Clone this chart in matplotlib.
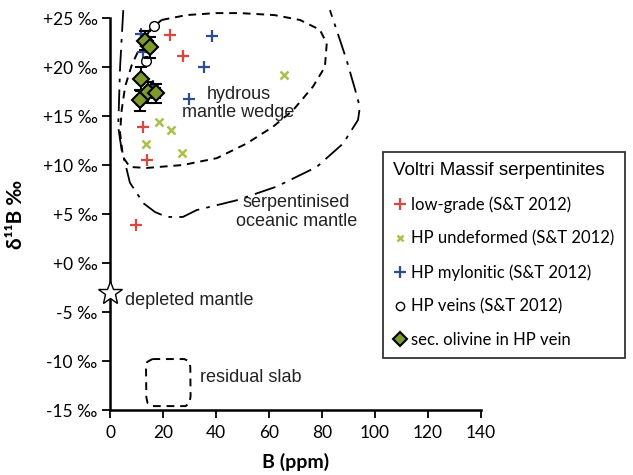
import matplotlib
matplotlib.use("Agg")
import matplotlib.pyplot as plt
from matplotlib.lines import Line2D

# data: B (ppm), d11B (permil)
low_grade_B = [22.6, 27.5, 12.5, 14.0, 9.8]
low_grade_d = [23.3, 21.1, 13.9, 10.5, 3.9]

hp_undef_B = [65.7, 18.5, 23.0, 13.6, 27.2]
hp_undef_d = [19.2, 14.4, 13.6, 12.1, 11.2]

hp_mylo_B = [38.5, 35.5, 29.8, 11.7, 12.5, 16.2]
hp_mylo_d = [23.2, 20.0, 16.7, 23.4, 21.5, 18.1]

hp_veins_B = [16.7, 13.6, 13.4]
hp_veins_d = [24.2, 20.6, 22.8]

olivine_B = [13.2, 15.1, 11.8, 11.3, 14.2, 17.2]
olivine_d = [22.7, 22.0, 18.8, 16.6, 17.4, 17.3]
olivine_Berr = [1.0, 1.0, 1.0, 1.0, 1.0, 1.5]
olivine_derr = [1.0, 1.1, 1.2, 1.1, 1.1, 1.0]

depleted_B = [0.0]
depleted_d = [-3.1]

# field outlines (B, d11B)
wedge_B = [19.5, 28.9, 40.0, 49.1, 62.0, 71.7, 79.2, 81.8, 81.1, 76.6, 69.1, 61.5, 51.6, 40.3,
           27.5, 13.8, 7.5, 4.9, 3.8, 4.4, 5.7, 8.2, 11.3, 15.1, 19.5]
wedge_d = [24.8, 25.3, 25.5, 25.5, 25.3, 24.8, 23.8, 22.4, 20.0, 18.0, 15.6, 13.9, 12.2, 10.7,
           10.0, 9.7, 9.8, 10.8, 13.3, 15.6, 18.0, 20.2, 22.0, 23.8, 24.8]

serp_B = [5.0, 3.8, 3.1, 4.4, 5.7, 7.5, 12.6, 17.0, 21.4, 27.5, 32.7, 47.8, 62.9, 78.0,
          88.0, 93.6, 94.3, 92.5, 89.3, 85.5, 83.0]
serp_d = [25.8, 20.0, 13.9, 11.5, 10.2, 8.2, 6.1, 5.2, 4.7, 4.7, 5.4, 6.4, 7.8, 9.8,
          12.2, 14.6, 15.9, 17.7, 20.7, 23.8, 25.8]

slab_B = [16.0, 28.0, 29.7, 30.3, 30.4, 30.0, 28.5, 16.0, 14.2, 13.7, 13.6, 14.0, 16.0]
slab_d = [-9.8, -9.8, -10.0, -10.6, -13.6, -14.3, -14.6, -14.6, -14.3, -13.7, -10.8, -10.1, -9.8]

y_ticks = [25, 20, 15, 10, 5, 0, -5, -10, -15]
y_labels = ['+25 ‰', '+20 ‰', '+15 ‰', '+10 ‰', '+5 ‰', '+0 ‰', '-5 ‰', '-10 ‰', '-15 ‰']
x_ticks = [0, 20, 40, 60, 80, 100, 120, 140]

plt.rcParams['font.family'] = ['Lato', 'DejaVu Sans']

fig = plt.figure(figsize=(6.33, 4.75), dpi=100)
ax = fig.add_axes([0.1738, 0.1368, 0.586, 0.8253])

red = '#d9483f'
lime = '#a9c14a'
blue = '#2d4d96'
olive = '#7d9b2a'

ax.plot(wedge_B, wedge_d, color='black', lw=1.4, ls=(0, (4, 3)), clip_on=False)
ax.plot(serp_B, serp_d, color='black', lw=1.3, ls=(0, (12, 4, 2, 4)), clip_on=False)
ax.plot(slab_B, slab_d, color='black', lw=1.4, ls=(0, (4, 3)), clip_on=False)

ax.plot(low_grade_B, low_grade_d, '+', color=red, ms=8, mew=1.6, ls='none', clip_on=False)
ax.plot(hp_undef_B, hp_undef_d, 'x', color=lime, ms=6, mew=1.8, ls='none', clip_on=False)
ax.plot(hp_mylo_B, hp_mylo_d, '+', color=blue, ms=8, mew=1.6, ls='none', clip_on=False)
ax.plot(hp_veins_B, hp_veins_d, 'o', mfc='white', mec='black', ms=7, mew=1.0, ls='none', clip_on=False)
ax.errorbar(olivine_B, olivine_d, xerr=olivine_Berr, yerr=olivine_derr, fmt='D', mfc=olive, mec='black',
            ms=8, mew=1.5, ecolor='black', elinewidth=1.4, capsize=4, capthick=1.4, clip_on=False)
ax.plot(depleted_B, depleted_d, '*', mfc='white', mec='black', ms=18, mew=1.0, clip_on=False, zorder=5)

ax.text(48.5, 16.3, 'hydrous\nmantle wedge', family='Liberation Sans', fontsize=13,
        ha='center', va='center', linespacing=1.05, color='#222222')
ax.text(70.3, 5.2, 'serpentinised\noceanic mantle', family='Liberation Sans', fontsize=13,
        ha='center', va='center', linespacing=1.15, color='#222222')
ax.text(5.5, -3.8, 'depleted mantle', family='Liberation Sans', fontsize=13,
        ha='left', va='center', color='#222222')
ax.text(34.0, -11.7, 'residual slab', family='Liberation Sans', fontsize=13,
        ha='left', va='center', color='#222222')

ax.set_xlim(0, 140)
ax.set_ylim(-15, 25)
ax.set_xticks(x_ticks)
ax.set_yticks(y_ticks)
ax.set_yticklabels(y_labels)
ax.tick_params(axis='both', direction='out', length=6, width=1.3, labelsize=12.5, colors='black')
ax.tick_params(axis='y', pad=3)
ax.tick_params(axis='x', pad=5)
for s in ['top', 'right']:
    ax.spines[s].set_visible(False)
for s in ['left', 'bottom']:
    ax.spines[s].set_linewidth(1.8)

ax.set_xlabel('B (ppm)', fontsize=14, fontweight='bold', labelpad=8)
ax.set_ylabel('δ¹¹B ‰', fontsize=15, fontweight='bold', labelpad=12)

handles = [
    Line2D([], [], marker='+', color=red, ls='none', ms=8, mew=1.6),
    Line2D([], [], marker='x', color=lime, ls='none', ms=5, mew=1.8),
    Line2D([], [], marker='+', color=blue, ls='none', ms=8, mew=1.6),
    Line2D([], [], marker='o', mfc='white', mec='black', ls='none', ms=6, mew=1.0),
    Line2D([], [], marker='D', mfc=olive, mec='black', ls='none', ms=7, mew=1.5),
]
labels = ['low-grade (S&T 2012)', 'HP undeformed (S&T 2012)', 'HP mylonitic (S&T 2012)',
          'HP veins (S&T 2012)', 'sec. olivine in HP vein']
leg = fig.legend(handles, labels, title='Voltri Massif serpentinites', loc='upper left',
                 bbox_to_anchor=(0.605, 0.68), bbox_transform=fig.transFigure, borderaxespad=0,
                 fontsize=12, title_fontsize=13.5, handlelength=0.8, handletextpad=0.3,
                 labelspacing=1.05, borderpad=0.6, frameon=True, fancybox=False, alignment='left')
leg.get_frame().set_edgecolor('black')
leg.get_frame().set_linewidth(1.3)
leg.get_title().set_family('Liberation Sans')

fig.savefig('out.png', dpi=100)
